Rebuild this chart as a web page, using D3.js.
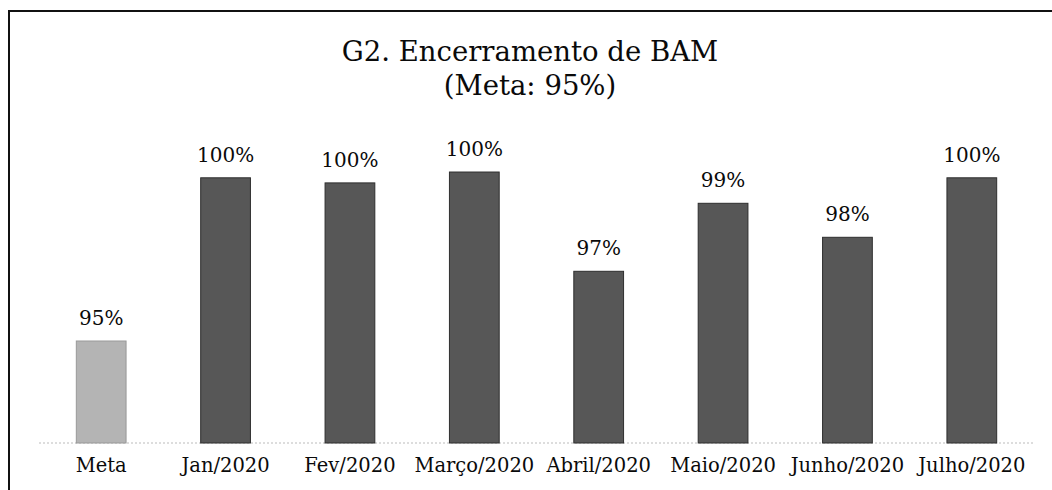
<!DOCTYPE html>
<html>
<head>
<meta charset="utf-8">
<script src="https://cdn.jsdelivr.net/npm/d3@7"></script>
<style>
  body { margin: 0; background: #fff; }
  text { font-family: "DejaVu Serif", Georgia, serif; fill: #0a0a0a; }
</style>
</head>
<body>
<div id="container"></div>
<script>
/* DATA */
const categories = ["Meta", "Jan/2020", "Fev/2020", "Março/2020", "Abril/2020", "Maio/2020", "Junho/2020", "Julho/2020"];
const values = [95, 99.8, 99.65, 99.97, 97.05, 99.05, 98.05, 99.8];
const titleLines = ["G2. Encerramento de BAM", "(Meta: 95%)"];

/* CONSTANTS */
const width = 1052, height = 490;
const margin = { top: 100, bottom: 47, left: 39, right: 18 };

const svg = d3.select("#container")
  .append("svg")
  .attr("width", width)
  .attr("height", height);

// frame (scan shows left and top edges only)
svg.append("path")
  .attr("d", `M9,${height} V11 H${width}`)
  .attr("fill", "none")
  .attr("stroke", "#111")
  .attr("stroke-width", 2);

// SCALES
const xScale = d3.scaleBand()
  .domain(categories)
  .range([margin.left, width - margin.right])
  .paddingInner(0.6)
  .paddingOuter(0.3);

const yScale = d3.scaleLinear()
  .domain([92, 100])
  .range([height - margin.bottom, height - margin.bottom - 8 * 34]);

// baseline (dotted, light)
svg.append("line")
  .attr("x1", margin.left)
  .attr("x2", width - margin.right)
  .attr("y1", yScale(92))
  .attr("y2", yScale(92))
  .attr("stroke", "#bbb")
  .attr("stroke-width", 1)
  .attr("stroke-dasharray", "2,2");

// BARS
svg.selectAll(".bar")
  .data(values)
  .join("rect")
  .attr("class", "bar")
  .attr("x", (d, i) => xScale(categories[i]))
  .attr("width", xScale.bandwidth())
  .attr("y", d => yScale(d))
  .attr("height", d => yScale(92) - yScale(d))
  .attr("fill", (d, i) => i === 0 ? "#b4b4b4" : "#575757")
  .attr("stroke", (d, i) => i === 0 ? "#999" : "#2e2e2e")
  .attr("stroke-width", 1);

// VALUE LABELS
svg.selectAll(".val")
  .data(values)
  .join("text")
  .attr("class", "val")
  .attr("x", (d, i) => xScale(categories[i]) + xScale.bandwidth() / 2)
  .attr("y", d => yScale(d) - 16)
  .attr("text-anchor", "middle")
  .attr("font-size", 20)
  .text(d => Math.round(d) + "%");

// X AXIS LABELS
const xAxis = d3.axisBottom(xScale).tickSize(0).tickPadding(15);
const gx = svg.append("g")
  .attr("transform", `translate(0,${yScale(92)})`)
  .call(xAxis);
gx.select(".domain").remove();
gx.selectAll("text")
  .attr("font-size", 19.5)
  .attr("font-family", "DejaVu Serif, serif")
  .attr("fill", "#0a0a0a");

// TITLE
svg.selectAll(".title")
  .data(titleLines)
  .join("text")
  .attr("class", "title")
  .attr("x", 530)
  .attr("y", (d, i) => 61 + i * 34)
  .attr("text-anchor", "middle")
  .attr("font-size", 27.5)
  .text(d => d);
</script>
</body>
</html>
